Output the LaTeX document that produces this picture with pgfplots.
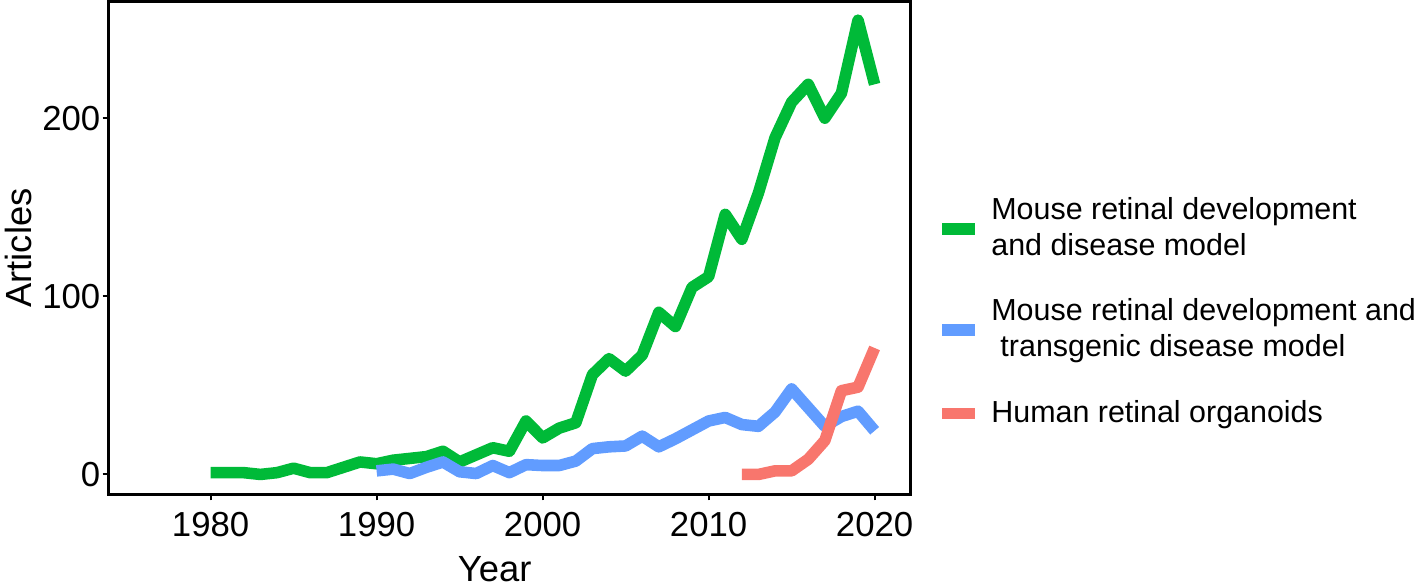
\documentclass[border=0pt]{standalone}
\usepackage{pgfplots}
\pgfplotsset{compat=1.18}
\usepackage{fontspec}
\setmainfont{Liberation Sans}
\definecolor{ggreen}{RGB}{0,186,56}
\definecolor{gblue}{RGB}{97,156,255}
\definecolor{gred}{RGB}{248,118,109}

\begin{document}
\begin{tikzpicture}
\begin{axis}[
  scale only axis, width=242.5pt, height=149pt,
  xmin=1973.85, xmax=2022.17, ymin=-11.2, ymax=265.5,
  xtick={1980,1990,2000,2010,2020}, ytick={0,100,200},
  x tick label style={/pgf/number format/1000 sep={}},
  y tick label style={inner xsep=0.5pt},
  /pgf/number format/assume math mode=true,
  tick label style={font=\fontsize{10.5}{12}\selectfont},
  tick align=outside, tick pos=left, major tick length=1.8pt,
  axis line style={line width=0.9pt}, every tick/.style={line width=0.6pt, black},
  xlabel={Year}, ylabel={Articles},
  label style={font=\fontsize{11}{13}\selectfont},
  xlabel style={xshift=-4.5pt, inner ysep=1.2pt, yshift=-1.4pt},
  ylabel style={inner ysep=1.5pt, yshift=1pt},
  legend cell align=left,
  legend image code/.code={\fill[#1, draw=none] (0pt,-1.8pt) rectangle (10pt,1.8pt);},
  legend style={draw=none, fill=none, at={(1,0.37)}, anchor=west, xshift=9.5pt,
    inner sep=0pt, outer sep=0pt,
    font=\fontsize{9.2}{11}\selectfont, row sep=7.5pt,
    nodes={align=left, inner xsep=0pt, outer sep=0pt},
    /tikz/every odd column/.append style={column sep=4.9pt}},
  every axis plot/.append style={line width=3.5pt, line join=round, line cap=butt},
]
\addplot[ggreen] coordinates {
 (1980,1) (1981,1) (1982,1) (1983,0) (1984,1) (1985,3.5) (1986,1) (1987,1)
 (1988,4) (1989,7) (1990,6) (1991,8) (1992,9) (1993,10) (1994,13) (1995,7)
 (1996,11) (1997,15) (1998,13) (1999,30) (2000,20.5) (2001,26) (2002,29)
 (2003,56) (2004,65) (2005,58) (2006,67) (2007,91) (2008,83) (2009,105)
 (2010,111) (2011,146) (2012,132) (2013,158) (2014,189) (2015,209)
 (2016,219) (2017,200) (2018,214) (2019,255) (2020,219)
};
\addlegendentry{Mouse retinal development\\and disease model}
\addplot[gblue] coordinates {
 (1990,2) (1991,3) (1992,0.5) (1993,4) (1994,7) (1995,1.5) (1996,0.5)
 (1997,5) (1998,1) (1999,5.5) (2000,5) (2001,5) (2002,7.5) (2003,14.5)
 (2004,15.5) (2005,16) (2006,21.5) (2007,15.5) (2008,20) (2009,25)
 (2010,30) (2011,32) (2012,28) (2013,27) (2014,35) (2015,48) (2016,37.5)
 (2017,27) (2018,32.5) (2019,35.5) (2020,24.5)
};
\addlegendentry{Mouse retinal development and\\\hspace{0.3em}transgenic disease model}
\addplot[gred] coordinates {
 (2012,0) (2013,0) (2014,2) (2015,2) (2016,8.5) (2017,19) (2018,47)
 (2019,49) (2020,71)
};
\addlegendentry{Human retinal organoids}
\end{axis}
\end{tikzpicture}
\end{document}
